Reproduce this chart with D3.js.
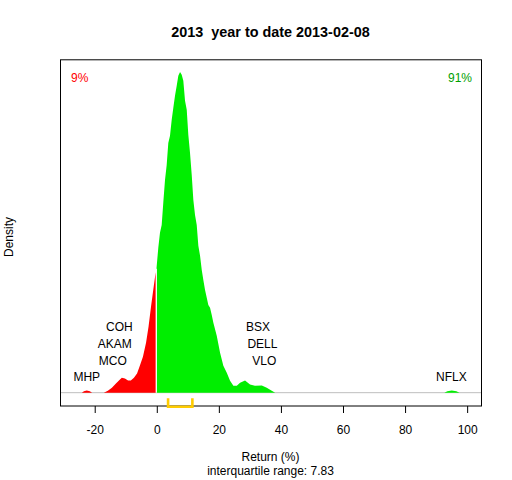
<!DOCTYPE html>
<html>
<head>
<meta charset="utf-8">
<script src="https://cdn.jsdelivr.net/npm/d3@7"></script>
<style>
  html, body { margin: 0; padding: 0; background: #ffffff; }
  svg text { font-family: "Liberation Sans", Arial, sans-serif; }
</style>
</head>
<body>
<script>
// ---- data ----
const titleText = "2013  year to date 2013-02-08";
const xTicks = [-20, 0, 20, 40, 60, 80, 100];
const xDataRange = [-26.0, 99.6];

// density curve: return grid (%) and estimated density values
const returnGrid = [
  -24.0, -23.3, -22.4, -21.4, -20.7, -16.9, -15.6, -14.3, -13.0, -11.7, -11.1, -10.1,
  -9.1, -8.2, -7.2, -6.2, -5.3, -4.3, -3.3, -2.5, -1.7, -1.1, -0.4, 0.0,
  0.65, 1.19, 1.74, 2.26, 2.81, 3.35, 3.87, 4.42, 4.97, 5.48, 6.03, 6.58, 7.10, 7.65,
  8.19, 8.71, 9.26, 9.81, 10.32, 10.87, 11.42, 11.94, 12.48, 13.03, 13.55, 14.1, 14.65,
  15.16, 15.71, 16.26, 16.77, 17.32, 17.87, 18.39, 19.48, 20.55, 21.61, 22.71, 23.77,
  24.84, 25.94, 27.0, 28.6, 30.2, 31.8, 34.0, 35.6, 37.2, 38.3,
  92.8, 93.8, 95.2, 96.7, 97.7
];
const densityValues = [
  0, 0.0003, 0.0005, 0.0003, 0, 0, 0.0004, 0.0011, 0.0020, 0.0029, 0.0033, 0.0031,
  0.0027, 0.0027, 0.0033, 0.0042, 0.0059, 0.0079, 0.0110, 0.0145, 0.0189, 0.0220, 0.0255, 0.0268,
  0.0319, 0.0352, 0.0369, 0.0418, 0.0468, 0.0501, 0.0549, 0.0565, 0.0600, 0.0626, 0.0653, 0.0675, 0.0697, 0.0705,
  0.0699, 0.0686, 0.0642, 0.0622, 0.0567, 0.0527, 0.0479, 0.0424, 0.0391, 0.0369, 0.0323, 0.0301, 0.0270,
  0.0248, 0.0226, 0.0209, 0.0193, 0.0187, 0.0171, 0.0154, 0.0125, 0.0088, 0.0059, 0.0044, 0.0026,
  0.0015, 0.0015, 0.0022, 0.0027, 0.0018, 0.0015, 0.0016, 0.0011, 0.0004, 0,
  0, 0.0003, 0.0005, 0.0003, 0
];

// labelled extreme stocks
const stockNames   = ["MHP", "MCO", "AKAM", "COH", "BSX", "DELL", "VLO", "NFLX"];
const stockReturns = [-22.4, -14.0, -13.4, -11.9, 32.8, 34.2, 34.8, 95.1];

const pctNegative = "9%";
const pctPositive = "91%";
const quartiles = [3.80, 11.63];
const iqrText = "interquartile range: 7.83";
const xLabel = "Return (%)";
const yLabel = "Density";

// ---- layout ----
const W = 512, H = 480;
const plot = { left: 60, right: 481, top: 59.3, bottom: 405.5 };
const red = "#ff0000", green = "#00ee00", greenText = "#00a000";

const svg = d3.select("body").append("svg")
  .attr("width", W).attr("height", H)
  .attr("viewBox", `0 0 ${W} ${H}`);

const pad = 0.04 * (xDataRange[1] - xDataRange[0]);
const x = d3.scaleLinear()
  .domain([xDataRange[0] - pad, xDataRange[1] + pad])
  .range([plot.left, plot.right]);

const maxD = d3.max(densityValues);
const y = d3.scaleLinear()
  .domain([-0.04 * maxD, 1.04 * maxD])
  .range([plot.bottom, plot.top]);

const pts = returnGrid.map((r, i) => ({ r, d: densityValues[i] }));
const negPts = pts.filter(p => p.r <= 0);
const posPts = pts.filter(p => p.r >= 0);

// baseline (h = 0)
svg.append("line")
  .attr("x1", plot.left).attr("x2", plot.right)
  .attr("y1", y(0)).attr("y2", y(0))
  .attr("stroke", "#bebebe").attr("stroke-width", 1);

const area = d3.area()
  .x(p => x(p.r))
  .y0(y(0))
  .y1(p => y(p.d))
  .curve(d3.curveLinear);

svg.append("path").datum(negPts).attr("d", area).attr("fill", red);
svg.append("path").datum(posPts).attr("d", area).attr("fill", green);

// white separator at zero
svg.append("line")
  .attr("x1", x(0)).attr("x2", x(0))
  .attr("y1", y(0)).attr("y2", y(densityValues[returnGrid.indexOf(0)]) - 2)
  .attr("stroke", "#ffffff").attr("stroke-width", 1.3);

// stock labels stacked by extremeness on each side
const labelFont = 12;
const neg = stockNames.map((n, i) => ({ n, r: stockReturns[i] })).filter(s => s.r < 0)
  .sort((a, b) => a.r - b.r);
const pos = stockNames.map((n, i) => ({ n, r: stockReturns[i] })).filter(s => s.r >= 0)
  .sort((a, b) => b.r - a.r);
[neg, pos].forEach(group => {
  group.forEach((s, k) => {
    svg.append("text")
      .attr("x", x(s.r))
      .attr("y", y(0) - 11.3 - k * 16.8)
      .attr("text-anchor", "middle")
      .attr("font-size", labelFont)
      .attr("fill", "#000")
      .text(s.n);
  });
});

// box
svg.append("rect")
  .attr("x", plot.left + 0.5).attr("y", plot.top + 0.5)
  .attr("width", plot.right - plot.left).attr("height", plot.bottom - plot.top)
  .attr("fill", "none").attr("stroke", "#000").attr("stroke-width", 1);

// x axis
const axisG = svg.append("g")
  .attr("transform", `translate(0.5,${plot.bottom + 0.5})`)
  .call(d3.axisBottom(x).tickValues(xTicks).tickSize(7).tickPadding(12)
    .tickFormat(d => d < 0 ? "-" + Math.abs(d) : String(d)));
axisG.select(".domain").remove();
axisG.selectAll("line").attr("stroke", "#000");
axisG.selectAll("text")
  .attr("font-size", 12)
  .attr("fill", "#000")
  .attr("font-family", "'Liberation Sans', Arial, sans-serif");

// IQR bracket
const bTop = 398.3, bBot = 406.7;
svg.append("path")
  .attr("d", `M${x(quartiles[0])},${bTop} L${x(quartiles[0])},${bBot} L${x(quartiles[1])},${bBot} L${x(quartiles[1])},${bTop}`)
  .attr("fill", "none").attr("stroke", "#ffcc00").attr("stroke-width", 2.6)
  .attr("stroke-linejoin", "miter");

// title
const cx = (plot.left + plot.right) / 2;
svg.append("text")
  .attr("x", cx).attr("y", 37)
  .attr("text-anchor", "middle")
  .attr("font-size", 14.4).attr("font-weight", "bold")
  .attr("xml:space", "preserve")
  .style("white-space", "pre")
  .text(titleText);

// percentages
svg.append("text").attr("x", 71).attr("y", 82)
  .attr("font-size", 12).attr("fill", red).text(pctNegative);
svg.append("text").attr("x", 472).attr("y", 82).attr("text-anchor", "end")
  .attr("font-size", 12).attr("fill", greenText).text(pctPositive);

// axis titles
svg.append("text").attr("x", cx).attr("y", 461)
  .attr("text-anchor", "middle").attr("font-size", 12).text(xLabel);
svg.append("text").attr("x", cx).attr("y", 475)
  .attr("text-anchor", "middle").attr("font-size", 12).text(iqrText);
svg.append("text")
  .attr("transform", "translate(13,237) rotate(-90)")
  .attr("text-anchor", "middle").attr("font-size", 12).text(yLabel);
</script>
</body>
</html>
